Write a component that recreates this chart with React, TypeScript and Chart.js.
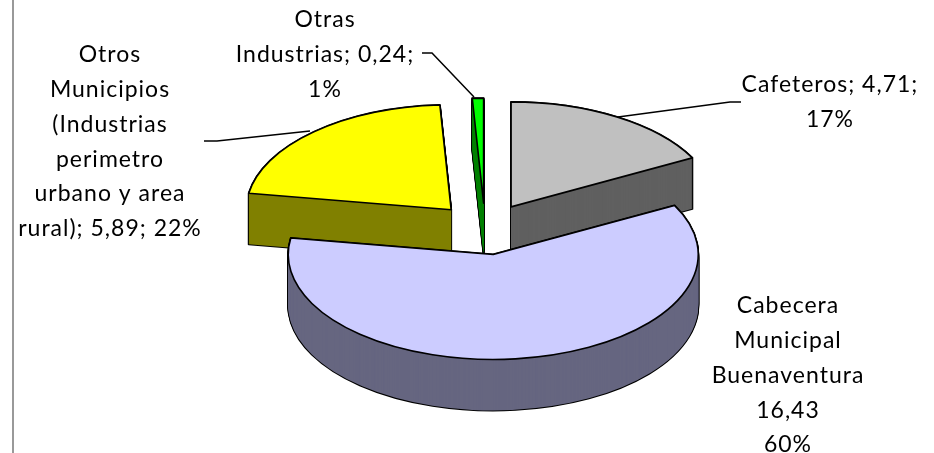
import React, { useEffect, useRef } from "react";
import { Chart, registerables } from "chart.js";

Chart.register(...registerables);

const categories = ["Cafeteros", "Cabecera Municipal Buenaventura", "Otros Municipios", "Otras Industrias"];
const values = [4.71, 16.43, 5.89, 0.24];
const topColors = ["#C0C0C0", "#CCCCFF", "#FFFF00", "#00FF00"];
const wallColors = ["#606060", "#666680", "#808000", "#008000"];
const labelLines = [
  ["Cafeteros; 4,71;", "17%"],
  ["Cabecera", "Municipal", "Buenaventura", "16,43", "60%"],
  ["Otros", "Municipios", "(Industrias", "perimetro", "urbano y area", "rural); 5,89; 22%"],
  ["Otras", "Industrias; 0,24;", "1%"],
];
const labelCenters = [
  [830, 85],
  [788, 306],
  [110, 55],
  [325, 20],
];
const leaders = [
  [[618, 117], [730, 102], [741, 102]],
  [],
  [[310, 131], [217, 141], [204, 141]],
  [[474, 97], [432, 53], [422, 53]],
];

const SQUASH = 0.512;
const DEPTH = 51;
const EXPLODE = 50.5;
const LINE_GAP = 34.7;

const wedge = (ctx: CanvasRenderingContext2D, x: number, y: number, rx: number, ry: number, a: number, b: number) => {
  ctx.beginPath();
  ctx.moveTo(x, y);
  ctx.ellipse(x, y, rx, ry, 0, a, b);
  ctx.closePath();
};

const pie3d = {
  id: "pie3d",
  beforeDraw(chart: any) {
    const { ctx, height } = chart;
    ctx.fillStyle = "#FFFFFF";
    ctx.fillRect(0, 0, chart.width, height);
    ctx.fillStyle = "#999999";
    ctx.fillRect(12, 0, 2, height);
  },
  beforeDatasetsDraw(chart: any) {
    const { ctx } = chart;
    const arcs = chart.getDatasetMeta(0).data.map((arc: any, index: number) => {
      const mid = (arc.startAngle + arc.endAngle) / 2;
      return {
        index,
        start: arc.startAngle,
        end: arc.endAngle,
        rx: arc.outerRadius,
        ry: arc.outerRadius * SQUASH,
        x: arc.x + Math.cos(mid) * EXPLODE,
        y: arc.y + Math.sin(mid) * EXPLODE * SQUASH,
      };
    });
    arcs.sort((p: any, q: any) => p.y - q.y);
    ctx.save();
    ctx.lineJoin = "round";
    for (const s of arcs) {
      // extruded silhouette: black outline first, wall fill on top of it
      ctx.strokeStyle = "#000000";
      ctx.lineWidth = 2;
      for (let d = DEPTH; d >= 0; d--) {
        wedge(ctx, s.x, s.y + d, s.rx, s.ry, s.start, s.end);
        ctx.stroke();
      }
      ctx.fillStyle = wallColors[s.index];
      for (let d = DEPTH; d >= 0; d--) {
        wedge(ctx, s.x, s.y + d, s.rx, s.ry, s.start, s.end);
        ctx.fill();
      }
      ctx.fillStyle = topColors[s.index];
      wedge(ctx, s.x, s.y, s.rx, s.ry, s.start, s.end);
      ctx.fill();
      ctx.lineWidth = 1.6;
      ctx.stroke();
    }
    ctx.restore();
    return false;
  },
  afterDraw(chart: any) {
    const { ctx } = chart;
    ctx.save();
    ctx.strokeStyle = "#000000";
    ctx.lineWidth = 1.5;
    for (const line of leaders) {
      if (!line.length) continue;
      ctx.beginPath();
      line.forEach(([x, y], i) => (i ? ctx.lineTo(x, y) : ctx.moveTo(x, y)));
      ctx.stroke();
    }
    ctx.fillStyle = "#000000";
    ctx.font = "23px Lato";
    ctx.letterSpacing = "1px";
    ctx.textAlign = "center";
    ctx.textBaseline = "middle";
    labelLines.forEach((lines, i) => {
      const [x, y] = labelCenters[i];
      lines.forEach((t, j) => ctx.fillText(t, x, y + j * LINE_GAP));
    });
    ctx.restore();
  },
};

export default function App() {
  const ref = useRef<HTMLCanvasElement>(null);
  useEffect(() => {
    const chart = new Chart(ref.current!, {
      type: "pie",
      data: {
        labels: categories,
        datasets: [{ data: values, backgroundColor: topColors, borderColor: "#000000", borderWidth: 1 }],
      },
      options: {
        animation: false,
        responsive: false,
        radius: 205,
        layout: { padding: { left: 36, top: 5 } },
        plugins: { legend: { display: false }, tooltip: { enabled: false } },
      },
      plugins: [pie3d],
    } as any);
    return () => chart.destroy();
  }, []);
  return (
    <div style={{ position: "absolute", left: 0, top: 0 }}>
      <canvas ref={ref} width={934} height={453} style={{ display: "block" }} />
    </div>
  );
}
